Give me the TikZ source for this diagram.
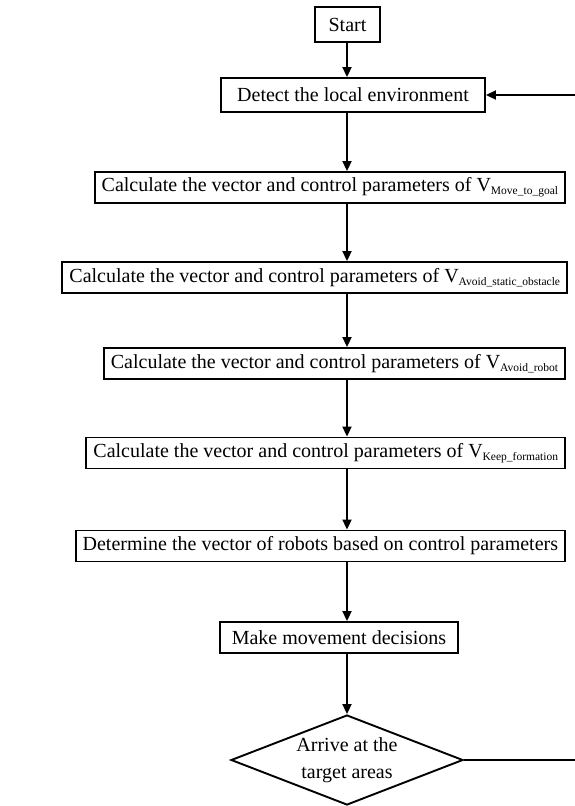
\documentclass[tikz,border=0pt]{standalone}
\usepackage{fontspec}
\setmainfont{Liberation Serif}
\usepackage{tikz}
\usetikzlibrary{arrows.meta, shapes.geometric, positioning}

\newcommand{\vsub}[1]{V\raisebox{-0.3ex}{\fontsize{11.5}{12}\selectfont #1}}

\begin{document}
\begin{tikzpicture}[x=1pt, y=-1pt, line width=1.9pt, >={Triangle[length=10pt,width=9pt]},
	stepbox/.style={draw, rectangle, inner xsep=7pt, inner ysep=0pt, minimum height=31pt, font=\fontsize{20}{24}\selectfont},
	calcbox/.style={stepbox, anchor=east},
	decision/.style={draw, diamond, aspect=2.58, minimum width=232pt, minimum height=90pt, inner sep=0pt, align=center, font=\fontsize{20}{27}\selectfont}]

	\useasboundingbox (0,0) rectangle (574,806);

	\node[stepbox, minimum width=65pt, minimum height=35pt] (S) at (347.5, 24.5) {Start};
	\node[stepbox, minimum width=264pt, minimum height=34pt] (D) at (353, 95) {Detect the local environment};
	\node[calcbox] (C1) at (566, 187.5) {Calculate the vector and control parameters of \vsub{Move\_to\_goal}};
	\node[calcbox] (C2) at (568, 277.5) {Calculate the vector and control parameters of \vsub{Avoid\_static\_obstacle}};
	\node[calcbox] (C3) at (566, 363.5) {Calculate the vector and control parameters of \vsub{Avoid\_robot}};
	\node[calcbox] (C4) at (566, 453) {Calculate the vector and control parameters of \vsub{Keep\_formation}};
	\node[calcbox] (R) at (566, 546) {Determine the vector of robots based on control parameters};
	\node[stepbox, minimum width=238pt] (M) at (339, 637.5) {Make movement decisions};
	\node[decision] (A) at (347, 760) {Arrive at the\\target areas};

	\coordinate (ax) at (347, 0);
	\coordinate (L1) at (578, 760);

	% main flow
	\foreach \a/\b in {S/D, D/C1, C1/C2, C2/C3, C3/C4, C4/R, R/M, M/A}
		\draw[->] (\a.south -| ax) -- (\b.north -| ax);

	% back to detection
	\draw[->] (A.east) -- (L1) |- (D.east);

\end{tikzpicture}
\end{document}
